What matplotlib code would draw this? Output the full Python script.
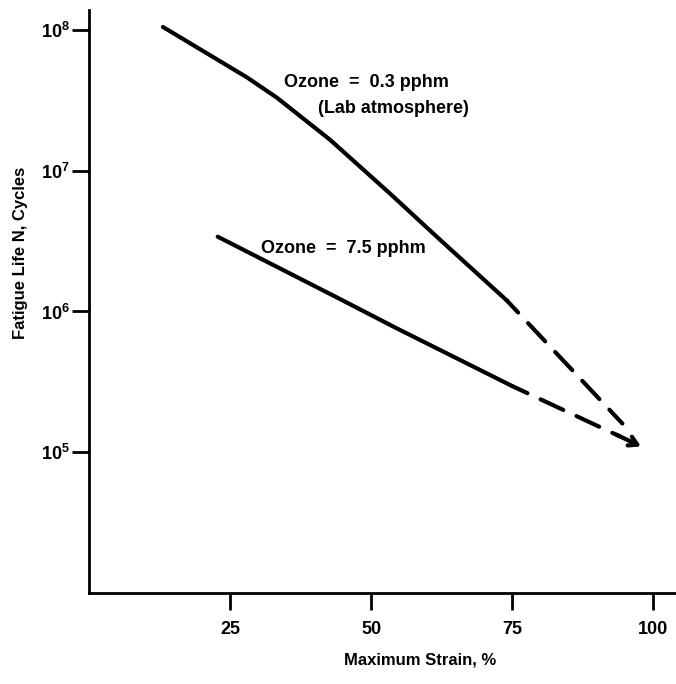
import matplotlib
matplotlib.use("Agg")
import matplotlib.pyplot as plt

plt.rcParams['font.family'] = ['Liberation Sans', 'DejaVu Sans']
plt.rcParams['mathtext.default'] = 'regular'

# Ozone = 0.3 pphm (lab atmosphere): measured part and extrapolation
lab_strain = [13.1, 28.0, 33.3, 42.7, 53.3, 61.6, 74.0]
lab_cycles = [1.05e8, 4.6e7, 3.3e7, 1.66e7, 6.9e6, 3.4e6, 1.2e6]
lab_ext_strain = [74.0, 94.5]
lab_ext_cycles = [1.2e6, 1.6e5]

# Ozone = 7.5 pphm
hi_strain = [22.8, 44.4, 54.5, 75.0]
hi_cycles = [3.4e6, 1.23e6, 7.6e5, 2.95e5]
hi_ext_strain = [75.0, 97.8]
hi_ext_cycles = [2.95e5, 1.1e5]

x_ticks = [25, 50, 75, 100]
y_ticks = [1e5, 1e6, 1e7, 1e8]
y_tick_labels = ['$10^5$', '$10^6$', '$10^7$', '$10^8$']

fig = plt.figure(figsize=(6.76, 6.84), dpi=100)
ax = fig.add_axes([0.1317, 0.133, 0.8683, 0.852])

lw = 3.0
ax.plot(lab_strain, lab_cycles, color='black', lw=lw, solid_capstyle='round')
ax.plot(lab_ext_strain, lab_ext_cycles, color='black', lw=lw,
        linestyle=(2, (6, 3.5)), dash_capstyle='round')
ax.plot(hi_strain, hi_cycles, color='black', lw=lw, solid_capstyle='round')
ax.plot(hi_ext_strain[:1] + [94.0], hi_ext_cycles[:1] + [1.3e5], color='black',
        lw=lw, linestyle=(2, (6, 3.5)), dash_capstyle='round')

# arrowhead at the end of the 7.5 pphm extrapolation
ax.annotate('', xy=(hi_ext_strain[-1], hi_ext_cycles[-1]),
            xytext=(93.5, 1.33e5),
            arrowprops=dict(arrowstyle='->,head_length=0.6,head_width=0.35',
                            color='black', lw=lw, shrinkA=0, shrinkB=0))

ax.set_yscale('log')
ax.set_xlim(0, 104)
ax.set_ylim(1e4, 10 ** 8.14)

ax.set_xticks(x_ticks)
ax.set_xticklabels([str(t) for t in x_ticks], fontsize=13, fontweight='bold')
ax.set_yticks(y_ticks)
ax.set_yticklabels(y_tick_labels, fontsize=13, fontweight='bold')
ax.minorticks_off()
ax.tick_params(axis='x', direction='out', length=12, width=2, pad=8)
ax.tick_params(axis='y', direction='out', length=12, width=2, pad=2)

for side in ['top', 'right']:
    ax.spines[side].set_visible(False)
for side in ['left', 'bottom']:
    ax.spines[side].set_linewidth(2)

ax.text(34.5, 10 ** 7.63, 'Ozone  =  0.3 pphm', fontsize=13, fontweight='bold',
        ha='left', va='center')
ax.text(40.5, 10 ** 7.44, '(Lab atmosphere)', fontsize=13, fontweight='bold',
        ha='left', va='center')
ax.text(30.5, 10 ** 6.45, 'Ozone  =  7.5 pphm', fontsize=13, fontweight='bold',
        ha='left', va='center')

fig.text(0.622, 0.035, 'Maximum Strain, %', fontsize=12, fontweight='bold',
         ha='center', va='center')
fig.text(0.03, 0.63, 'Fatigue Life N, Cycles', fontsize=12, fontweight='bold',
         ha='center', va='center', rotation=90)

fig.savefig('out.png', dpi=100)
